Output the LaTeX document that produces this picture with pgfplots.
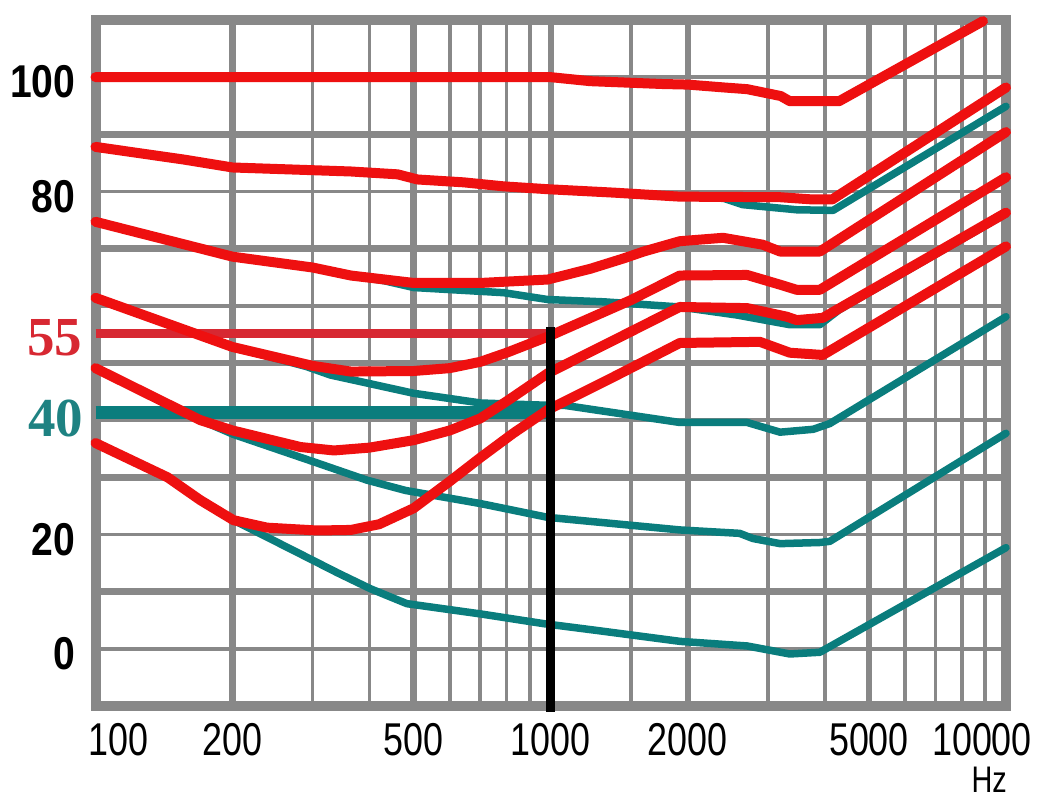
\documentclass[border=0pt]{standalone}
\usepackage{fontspec}
\setmainfont{Liberation Sans}
\newfontfamily\xlabfont[FakeStretch=0.78]{Liberation Sans}
\newfontfamily\ylabfont[FakeStretch=0.85]{Liberation Sans}
\newfontfamily\annfont{Liberation Serif}
\usepackage{pgfplots}
\pgfplotsset{compat=1.18}
\definecolor{gridgray}{RGB}{136,136,136}
\definecolor{cred}{RGB}{238,16,16}
\definecolor{cteal}{RGB}{10,125,125}
\definecolor{lred}{RGB}{215,40,50}
\definecolor{lteal}{RGB}{30,130,130}
\begin{document}
\begin{tikzpicture}
\useasboundingbox (-95.5pt,-94pt) rectangle (943.5pt,706pt);
\begin{axis}[
 at={(0pt,0pt)}, anchor=south west,
 scale only axis, width=910.5pt, height=686pt,
 xmode=log, xmin=100, xmax=10000, ymin=-10, ymax=110,
 clip=false,
 axis line style={draw=gridgray, line width=10pt, line cap=rect},
 xtick={100,200,500,1000,2000,5000,10000},
 xticklabels={\hspace*{46pt}100,200,500,1000,2000,5000,10000\hspace*{48pt}},
 minor xtick={300,400,600,700,800,900,1500,3000,4000,6000,7000,8000,9000},
 ytick={-10,10,30,50,70,90,110},
 yticklabels={},
 minor ytick={0,20,40,60,80,100},
 extra y ticks={0,20,80,100},
 extra y tick labels={0,20,80,100},
 extra y tick style={grid=none},
 grid=both,
 major grid style={draw=gridgray, line width=6.5pt},
 minor grid style={draw=gridgray, line width=3.5pt},
 tick style={draw=none},
 major tick length=0pt, minor tick length=0pt,
 xticklabel style={font=\xlabfont\fontsize{46}{46}\selectfont, anchor=center, inner sep=0pt, yshift=-34pt},
 yticklabel style={font=\ylabfont\bfseries\fontsize{46}{46}\selectfont, anchor=east, inner sep=0pt, xshift=-20pt, yshift=-5pt},
 xlabel={Hz},
 xlabel style={at={(rel axis cs:0.9815,0)}, anchor=center, inner sep=0pt, yshift=-74pt, font=\xlabfont\fontsize{37}{37}\selectfont},
 every axis plot/.append style={line join=round, line cap=round},
]
% thick teal 40 line
\addplot[cteal, line width=13pt, line cap=butt] coordinates {(100,41.4) (1000,41.4)};
% red 55 line
\addplot[lred, line width=9pt, line cap=butt] coordinates {(100,55.1) (975,55.1)};
% teal (new) contours
\addplot[cteal, line width=7.5pt] coordinates {(1000,80.4) (1377,79.8) (1920,79.1) (2400,78.8) (2640,77.7) (3470,76.8) (4170,76.7) (10000,94.9)};
\addplot[cteal, line width=7.5pt] coordinates {(364,65.3) (430,64.4) (500,63.2) (788,62.3) (985,61.1) (1308,60.7) (1920,59.8) (2560,58.4) (3350,56.7) (3900,56.7) (4300,59.3) (10000,76.1)};
\addplot[cteal, line width=7.5pt] coordinates {(100,61.4) (200,52.8) (290,49.4) (328,47.9) (500,44.7) (702,43.0) (985,42.6) (1070,42.6) (1250,41.8) (1920,39.6) (2700,39.6) (2920,38.8) (3190,37.9) (3770,38.4) (4100,39.4) (10000,58.1)};
\addplot[cteal, line width=7.5pt] coordinates {(100,49.1) (170,40.0) (201,37.5) (307,32.5) (395,29.5) (480,27.7) (702,25.4) (985,23.0) (1920,20.8) (2600,20.2) (2780,19.3) (3190,18.4) (3900,18.6) (4100,18.8) (10000,37.7)};
\addplot[cteal, line width=7.5pt] coordinates {(100,36.0) (144,30.0) (170,26.0) (201,22.5) (300,15.5) (340,13.3) (402,10.5) (483,7.9) (702,6.1) (966,4.4) (1267,3.2) (1926,1.3) (2700,0.5) (3350,-0.9) (3900,-0.6) (10000,17.7)};
% red (old) contours
\addplot[cred, line width=10pt] coordinates {(100,100) (1000,100) (1220,99.3) (1760,98.8) (2000,98.7) (2400,98.2) (2700,97.9) (3200,96.7) (3350,95.8) (4300,95.8) (8900,109.8)};
\addplot[cred, line width=10pt] coordinates {(100,87.8) (156,85.6) (200,84.2) (364,83.5) (461,83.0) (510,82.1) (644,81.6) (788,80.9) (985,80.4) (1377,79.8) (1920,79.1) (3190,79.0) (3770,78.6) (4150,78.6) (10000,98.2)};
\addplot[cred, line width=10pt] coordinates {(100,74.7) (200,68.6) (300,66.7) (364,65.3) (500,64.0) (700,64.0) (985,64.6) (1224,66.5) (1446,68.3) (1600,69.5) (1920,71.3) (2390,71.9) (2920,70.7) (3190,69.5) (3900,69.5) (10000,90.4)};
\addplot[cred, line width=10pt] coordinates {(100,61.4) (200,52.8) (300,49.5) (364,48.5) (500,48.6) (600,49.1) (700,50.2) (800,51.8) (985,54.6) (1500,61.0) (1920,65.3) (2700,65.4) (3190,63.7) (3470,62.8) (3900,62.8) (10000,82.5)};
\addplot[cred, line width=10pt] coordinates {(100,49.1) (170,40.0) (200,38.2) (282,35.3) (334,34.7) (400,35.2) (500,36.5) (600,38.2) (700,40.3) (800,43.3) (985,48.2) (1377,54.0) (1920,59.8) (2700,59.6) (3300,58.1) (3470,57.5) (3960,57.9) (10000,76.3)};
\addplot[cred, line width=10pt] coordinates {(100,36.0) (144,30.0) (170,26.0) (201,22.5) (238,21.2) (307,20.7) (364,20.8) (420,21.8) (500,24.6) (600,29.3) (702,33.5) (827,37.7) (985,41.8) (1377,47.6) (1921,53.5) (2880,53.7) (3350,51.8) (3960,51.4) (10000,70.4)};
% black marker line at 1000 Hz
\addplot[black, line width=9pt, line cap=butt] coordinates {(1000,56.3) (1000,-11)};
% annotation labels
\node[anchor=east, inner sep=0pt, text=lred, font=\annfont\bfseries\fontsize{55}{55}\selectfont, xshift=-13pt, yshift=-3pt] at (axis cs:100,55) {55};
\node[anchor=east, inner sep=0pt, text=lteal, font=\annfont\bfseries\fontsize{55}{55}\selectfont, xshift=-12pt, yshift=-3pt] at (axis cs:100,40.9) {40};
\end{axis}
\end{tikzpicture}
\end{document}
